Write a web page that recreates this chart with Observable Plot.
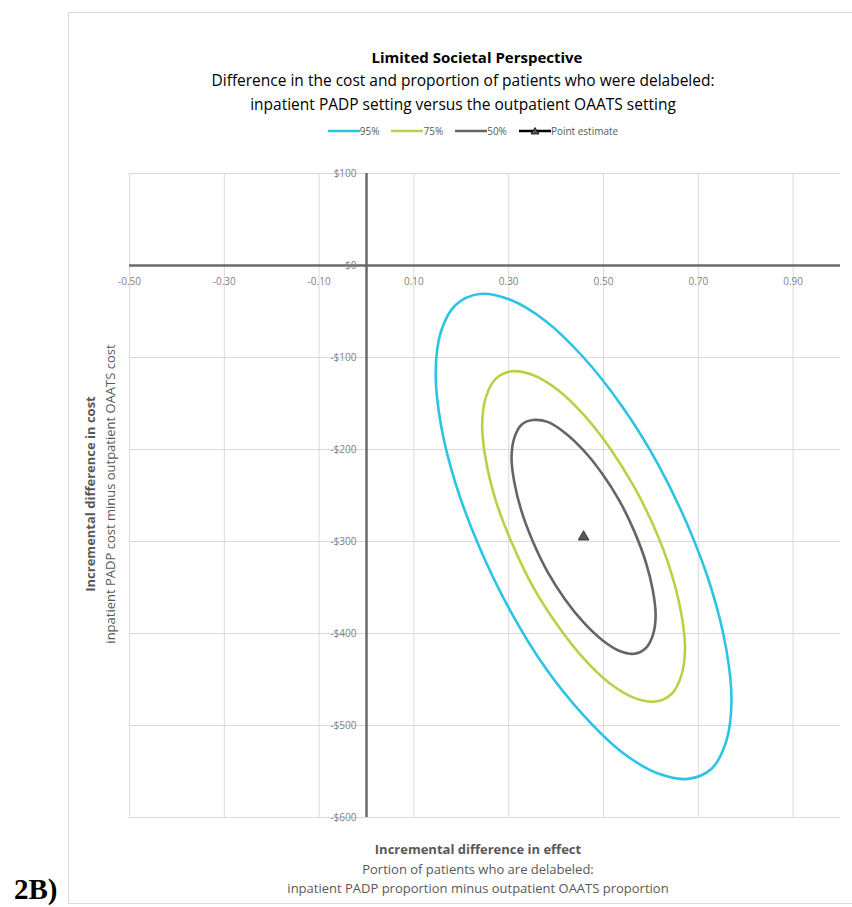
<!DOCTYPE html>
<html>
<head>
<meta charset="utf-8">
<script src="https://cdn.jsdelivr.net/npm/d3@7"></script>
<script src="https://cdn.jsdelivr.net/npm/@observablehq/plot@0.6"></script>
<style>
  html, body { margin: 0; padding: 0; background: #fff; }
  #wrap { position: relative; width: 852px; height: 907px; overflow: hidden; font-family: "Open Sans", sans-serif; }
  #frame { position: absolute; left: 68px; top: 12px; width: 800px; height: 892px; border: 1px solid #d9d9d9; box-sizing: border-box; }
  #chart { position: absolute; left: 0; top: 0; }
  .t { position: absolute; white-space: nowrap; text-align: center; color: #000; }
  #legend { position: absolute; top: 124px; left: 0; width: 946px; display: flex; justify-content: center; gap: 12px; font-size: 10px; color: #595959; }
  #legend .item { display: flex; align-items: center; }
  #ytitle { position: absolute; left: 100px; top: 494px; transform: translate(-50%, -50%) rotate(-90deg); text-align: center; color: #595959; white-space: nowrap; line-height: 20px; }
  #xtitle { position: absolute; left: 478px; top: 840px; transform: translateX(-50%); text-align: center; color: #595959; white-space: nowrap; line-height: 19.5px; }
  #tag { position: absolute; left: 14px; top: 875px; font-family: "Liberation Serif", serif; font-weight: bold; font-size: 29px; line-height: 29px; color: #000; }
</style>
</head>
<body>
<div id="wrap">
  <div id="frame"></div>
  <div id="chart"></div>
  <div class="t" style="left:477px; top:47px; transform:translateX(-50%); font-weight:bold; font-size:15px;">Limited Societal Perspective</div>
  <div class="t" style="left:463px; top:68px; transform:translateX(-50%); font-size:15.5px; line-height:24px;">Difference in the cost and proportion of patients who were delabeled:<br>inpatient PADP setting versus the outpatient OAATS setting</div>
  <div id="legend"></div>
  <div id="ytitle"><div style="font-weight:bold; font-size:13px;">Incremental difference in cost</div><div style="font-size:13px;">inpatient PADP cost minus outpatient OAATS cost</div></div>
  <div id="xtitle"><div style="font-weight:bold; font-size:13px;">Incremental difference in effect</div><div style="font-size:13px;">Portion of patients who are delabeled:</div><div style="font-size:13px;">inpatient PADP proportion minus outpatient OAATS proportion</div></div>
  <div id="tag">2B)</div>
</div>
<script>
// ---- data ----
const xTicks = [-0.5, -0.3, -0.1, 0.1, 0.3, 0.5, 0.7, 0.9];
const yTicks = [100, 0, -100, -200, -300, -400, -500, -600];
const seriesNames = ["95%", "75%", "50%"];
const seriesColors = ["#2cc3e5", "#bccf45", "#646469"];

// outline points of each confidence ellipse [effect, cost]
const ellipse95 = [
  [0.770, -473], [0.759, -517], [0.728, -547], [0.678, -558], [0.614, -552], [0.539, -529],
  [0.458, -489], [0.377, -437], [0.302, -374], [0.238, -306], [0.188, -237], [0.157, -173],
  [0.146, -116], [0.157, -72], [0.188, -43], [0.238, -31], [0.302, -37], [0.377, -60],
  [0.458, -100], [0.539, -153], [0.614, -215], [0.678, -283], [0.728, -352], [0.759, -417]
];
const ellipse75 = [
  [0.672, -416], [0.664, -446], [0.643, -466], [0.609, -474], [0.565, -470], [0.513, -454],
  [0.458, -427], [0.403, -391], [0.351, -349], [0.307, -302], [0.273, -256], [0.252, -212],
  [0.244, -173], [0.252, -143], [0.273, -123], [0.307, -115], [0.351, -119], [0.403, -135],
  [0.458, -162], [0.513, -198], [0.565, -241], [0.609, -287], [0.643, -334], [0.664, -378]
];
const ellipse50 = [
  [0.610, -381], [0.604, -402], [0.589, -416], [0.565, -422], [0.534, -419], [0.497, -407],
  [0.458, -388], [0.419, -363], [0.382, -333], [0.351, -300], [0.327, -267], [0.312, -236],
  [0.306, -209], [0.312, -187], [0.327, -173], [0.351, -168], [0.382, -170], [0.419, -182],
  [0.458, -201], [0.497, -226], [0.534, -256], [0.565, -289], [0.589, -322], [0.604, -353]
];
const pointEstimate = [[0.458, -295]];

const fmtX = d => d.toFixed(2);
const fmtY = d => (d < 0 ? "-$" : "$") + Math.abs(d);

const ellipses = [ellipse95, ellipse75, ellipse50];

const plot = Plot.plot({
  width: 852,
  height: 907,
  marginLeft: 129,
  marginRight: 12,
  marginTop: 173,
  marginBottom: 90,
  style: { background: "transparent", fontFamily: "Open Sans, sans-serif" },
  x: { domain: [-0.5, 1.0], axis: null },
  y: { domain: [-600, 100], axis: null },
  marks: [
    Plot.ruleX(xTicks, { y1: -600, y2: 100, stroke: "#d9d9d9", strokeWidth: 1 }),
    Plot.ruleY(yTicks, { x1: -0.5, x2: 1.0, stroke: "#d9d9d9", strokeWidth: 1 }),
    Plot.ruleY([0], { x1: -0.5, x2: 1.0, stroke: "#6a6a6a", strokeWidth: 2.5 }),
    Plot.ruleX([0], { y1: -600, y2: 100, stroke: "#6a6a6a", strokeWidth: 2.5 }),
    Plot.text(xTicks, { x: d => d, y: 0, text: fmtX, dy: 16, fill: "#7f7f7f", fontSize: 10 }),
    Plot.text(yTicks, { x: 0, y: d => d, text: fmtY, dx: -10, textAnchor: "end", fill: "#7f7f7f", fontSize: 10 }),
    ...ellipses.map((e, i) => Plot.line(e, {
      x: d => d[0], y: d => d[1], curve: "catmull-rom-closed",
      stroke: seriesColors[i], strokeWidth: 2.6
    })),
    Plot.dot(pointEstimate, { x: d => d[0], y: d => d[1], symbol: "triangle", r: 4, fill: "#595959", stroke: "#222", strokeWidth: 0.8 })
  ]
});
document.getElementById("chart").appendChild(plot);

// legend
const legend = document.getElementById("legend");
const items = seriesNames.map((n, i) => ({ name: n, color: seriesColors[i], tri: false }))
  .concat([{ name: "Point estimate", color: "#000", tri: true }]);
for (const it of items) {
  const el = document.createElement("div");
  el.className = "item";
  el.innerHTML = `<svg width="32" height="10"><line x1="0" y1="5" x2="32" y2="5" stroke="${it.color}" stroke-width="2.5"/>` +
    (it.tri ? `<path d="M16,1.5 L20,8 L12,8 Z" fill="#595959" stroke="#000" stroke-width="0.8"/>` : "") +
    `</svg><span>${it.name}</span>`;
  legend.appendChild(el);
}
</script>
</body>
</html>
